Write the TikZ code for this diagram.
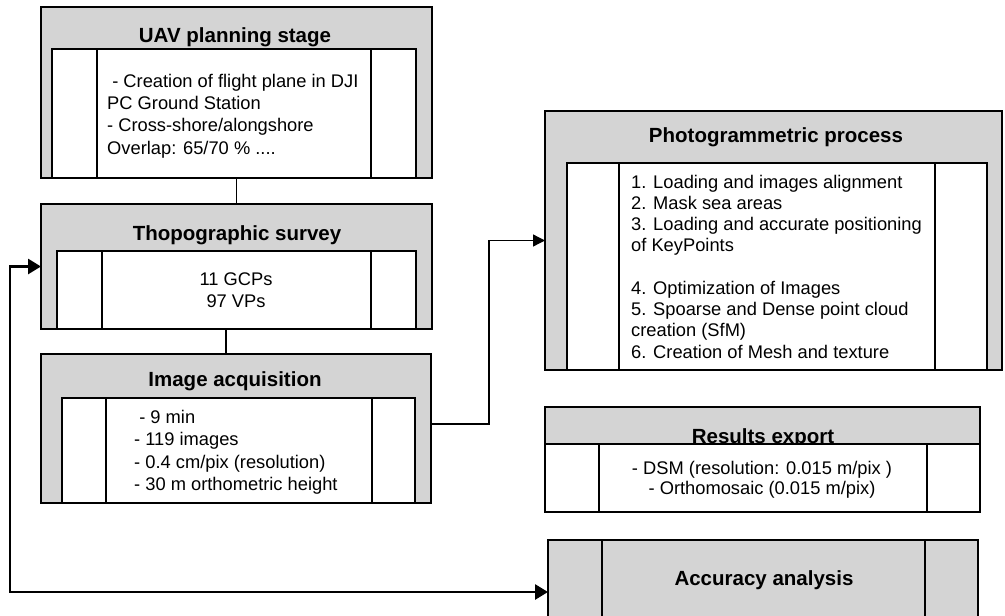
\documentclass[tikz,border=0pt]{standalone}
\usepackage{fontspec}
\setmainfont{Liberation Sans}
\usetikzlibrary{arrows.meta,calc}
\definecolor{boxgray}{RGB}{212,212,212}
\newcommand{\ttlfont}{\fontsize{20.5}{24}\selectfont\bfseries}
\newcommand{\bodyfont}{\fontsize{18.3}{22.2}\selectfont}
\tikzset{
  outerbox/.style={draw, fill=boxgray, line width=1.4pt, inner sep=0pt, outer sep=0pt},
  innerbox/.style={draw, fill=white, line width=1.4pt, inner sep=0pt, outer sep=0pt},
  divider/.style={line width=1.4pt},
  ttl/.style={font=\ttlfont, anchor=base, inner sep=0pt},
  bodytxt/.style={font=\bodyfont, inner sep=0pt},
  link/.style={line width=1.3pt},
  biglink/.style={line width=2.8pt},
}
\begin{document}
\begin{tikzpicture}[x=1pt,y=-1pt]
\clip (0,0) rectangle (1005,616);
\fill[white] (0,0) rectangle (1005,616);

% UAV planning stage
\node[outerbox, minimum width=391pt, minimum height=171pt] (uav) at (236.5,92.5) {};
\node[innerbox, minimum width=364pt, minimum height=129pt] (uavin) at (234,113.5) {};
\draw[divider] (97,49) -- (97,178);
\draw[divider] (371,49) -- (371,178);
\node[ttl] (uavt) at (235,42.5) {UAV planning stage};
\node[bodytxt, anchor=base west, align=left] (uavb) at (107,154.1) {\ - Creation of flight plane in DJI\\PC Ground Station\\- Cross-shore/alongshore\\Overlap: 65/70 \% ....};

% Thopographic survey
\node[outerbox, minimum width=391pt, minimum height=125pt] (thopo) at (236.5,266.5) {};
\node[innerbox, minimum width=359pt, minimum height=78pt] (thopoin) at (236.5,290) {};
\draw[divider] (102,251) -- (102,329);
\draw[divider] (371,251) -- (371,329);
\node[ttl] (thopot) at (237,240) {Thopographic survey};
\node[bodytxt, anchor=base, align=center] (thopob) at (236,307.2) {11 GCPs\\97 VPs};

% Image acquisition
\node[outerbox, minimum width=390pt, minimum height=149pt] (image) at (236,428.5) {};
\node[innerbox, minimum width=353pt, minimum height=105pt] (imagein) at (238.5,450.5) {};
\draw[divider] (106,398) -- (106,503);
\draw[divider] (372,398) -- (372,503);
\node[ttl] (imaget) at (235,386.5) {Image acquisition};
\node[bodytxt, anchor=base west, align=left, font=\fontsize{18.3}{22.6}\selectfont] (imageb) at (134,490.8) {\ - 9 min\\- 119 images\\- 0.4 cm/pix (resolution)\\- 30 m orthometric height};

% Photogrammetric process
\node[outerbox, minimum width=457pt, minimum height=259pt] (photo) at (773.5,240.5) {};
\node[innerbox, minimum width=420pt, minimum height=207pt] (photoin) at (777,266.5) {};
\draw[divider] (619,163) -- (619,370);
\draw[divider] (935,163) -- (935,370);
\node[ttl] (photot) at (776,142.3) {Photogrammetric process};
\node[bodytxt, anchor=base west, align=left, font=\fontsize{18.3}{21.25}\selectfont] (photob) at (631,358) {1. Loading and images alignment\\2. Mask sea areas\\3. Loading and accurate positioning\\of KeyPoints\\[21.25pt]4. Optimization of Images\\5. Spoarse and Dense point cloud\\creation (SfM)\\6. Creation of Mesh and texture};

% Results export
\node[outerbox, minimum width=435pt, minimum height=105pt] (results) at (762.5,459.5) {};
\node[ttl] (resultst) at (763,443.5) {Results export};
\node[innerbox, minimum width=435pt, minimum height=68pt] (resultsin) at (762.5,478) {};
\draw[divider] (599,444) -- (599,512);
\draw[divider] (927,444) -- (927,512);
\node[bodytxt, anchor=base, align=center, font=\fontsize{18.3}{20.7}\selectfont] (resultsb) at (762,494.7) {- DSM (resolution: 0.015 m/pix )\\- Orthomosaic (0.015 m/pix)};

% Accuracy analysis
\node[outerbox, minimum width=430pt, minimum height=104pt] (acc) at (763,592) {};
\draw[divider] (602,540) -- (602,644);
\draw[divider] (925,540) -- (925,644);
\node[ttl] (acct) at (764,585.7) {Accuracy analysis};

% connectors
\draw[link] (uav.south) -- (thopo.north);
\draw[link] ([xshift=-10.5pt]thopo.south) -- ([xshift=-10.5pt]thopo.south |- image.north);
\coordinate (bend) at (489,424);
\draw[link, -{Triangle[length=12pt,width=12pt]}] (image.east |- bend) -- (bend) |- (photo.west);
\coordinate (lbend) at (10,592);
\draw[biglink, {Triangle[length=13pt,width=15pt]}-{Triangle[length=13pt,width=15pt]}] (thopo.west) -| (lbend) -- (acc.west);
\end{tikzpicture}
\end{document}
